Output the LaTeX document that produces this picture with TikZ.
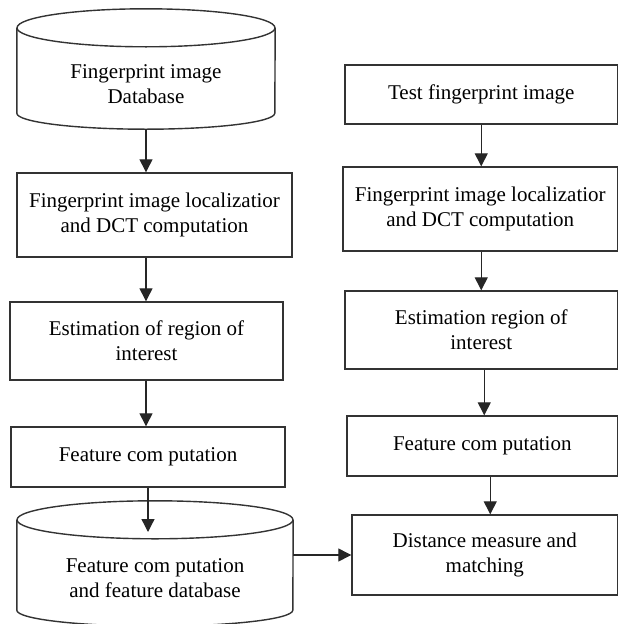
\documentclass[tikz,border=0pt]{standalone}
\usepackage{fontspec}
\setmainfont{Liberation Serif}
\usetikzlibrary{arrows.meta, positioning, calc}

\tikzset{
  stage/.style={draw=black!80, line width=1.4pt, rectangle, align=center, inner sep=2pt, font=\fontsize{21}{25}\selectfont},
  dbbody/.style={rectangle, inner sep=0pt},
  dbline/.style={draw=black!80, line width=1.4pt},
  dbtext/.style={align=center, inner sep=0pt, font=\fontsize{21}{25}\selectfont},
  flow/.style={draw=black!85, line width=1.3pt, -{Triangle[width=13pt,length=13pt]}},
}

\begin{document}
\begin{tikzpicture}[x=1pt,y=1pt]
  \useasboundingbox (0,0) rectangle (619,-624);

  % Left column
  \node[dbbody, minimum width=258pt, minimum height=85pt] (db1) at (146,-70.5) {};
  \draw[dbline] (db1.north west) -- (db1.south west) arc[start angle=180, end angle=360, x radius=129pt, y radius=16pt] -- (db1.north east);
  \draw[dbline] (db1.north) ellipse [x radius=129pt, y radius=19pt];
  \node[dbtext] (db1-text) at (146,-84) {Fingerprint image\\Database};

  \node[stage, minimum width=275pt, minimum height=84pt] (loc) at (154.5,-215) {Fingerprint image localizatior\\and DCT computation};
  \node[stage, minimum width=273pt, minimum height=78pt] (roi) at (146.5,-341) {Estimation of region of\\interest};
  \node[stage, minimum width=274pt, minimum height=60pt] (feat) at (148,-457) {Feature com putation};

  \node[dbbody, minimum width=276pt, minimum height=90pt] (db2) at (155,-565) {};
  \draw[dbline] (db2.north west) -- (db2.south west) arc[start angle=180, end angle=360, x radius=138pt, y radius=16pt] -- (db2.north east);
  \draw[dbline] (db2.north) ellipse [x radius=138pt, y radius=19pt];
  \node[dbtext] (db2-text) at (155,-578) {Feature com putation\\and feature database};
  \coordinate (db2-in) at (148,-532);

  % Right column
  \node[stage, minimum width=272.5pt, minimum height=59pt] (test) at (481.25,-94.5) {Test fingerprint image};
  \node[stage, minimum width=274.5pt, minimum height=84pt] (loc2) at (480.25,-209) {Fingerprint image localizatior\\and DCT computation};
  \node[stage, minimum width=272.5pt, minimum height=78pt] (roi2) at (481.25,-330) {Estimation region of\\interest};
  \node[stage, minimum width=270.5pt, minimum height=60pt] (feat2) at (482.25,-446) {Feature com putation};
  \node[stage, minimum width=265.5pt, minimum height=80pt] (dist) at (484.75,-555) {Distance measure and\\matching};

  % Arrows
  \draw[flow] ([yshift=-16pt]db1.south) -- (db1.south |- loc.north);
  \draw[flow] (db1.south |- loc.south) -- (db1.south |- roi.north);
  \draw[flow] (db1.south |- roi.south) -- (db1.south |- feat.north);
  \draw[flow] (feat.south) -- (db2-in);

  \draw[flow] (test.south) -- (test.south |- loc2.north);
  \draw[flow] (test.south |- loc2.south) -- (test.south |- roi2.north);
  \draw[flow] ([xshift=3pt]roi2.south) -- ([xshift=3pt]roi2.south |- feat2.north);
  \draw[flow] ([xshift=8pt]feat2.south) -- ([xshift=8pt]feat2.south |- dist.north);

  \draw[flow] (db2.east |- dist.west) -- (dist.west);
\end{tikzpicture}
\end{document}
